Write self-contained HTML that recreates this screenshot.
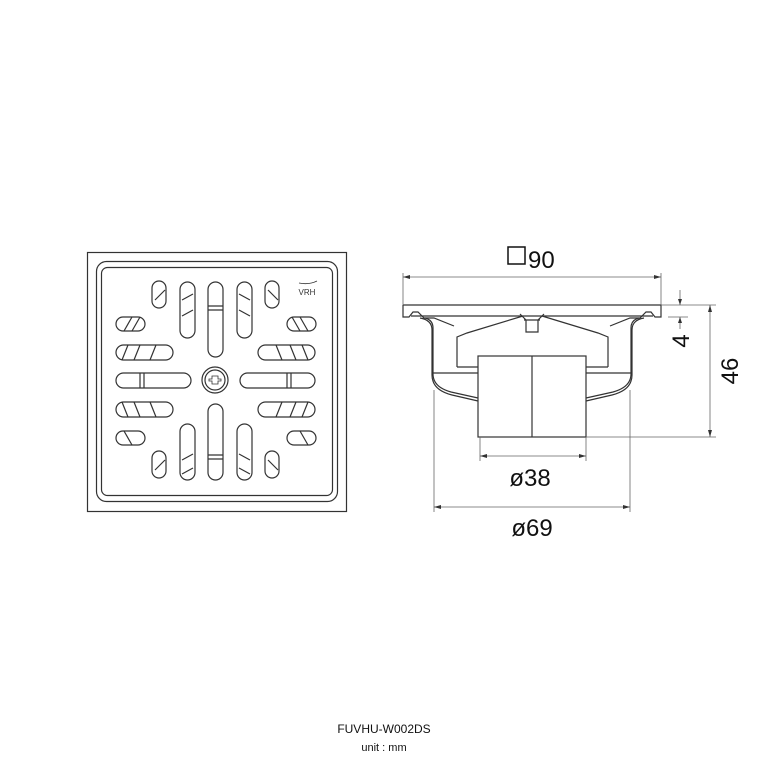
<!DOCTYPE html>
<html><head><style>html,body{margin:0;padding:0;background:#fff}svg{display:block}</style></head><body>
<svg width="768" height="768" viewBox="0 0 768 768" xmlns="http://www.w3.org/2000/svg" font-family="Liberation Sans, DejaVu Sans, sans-serif">
<g fill="none" stroke="#333" stroke-width="1.2">
<!-- plan view -->
<rect x="87.5" y="252.5" width="259" height="259"/>
<rect x="96.5" y="261.5" width="241" height="240" rx="10"/>
<rect x="101.5" y="267.5" width="231" height="228" rx="6"/>
<!-- vertical slots -->
<rect x="208" y="282" width="15" height="75" rx="7.5"/>
<rect x="208" y="404" width="15" height="76" rx="7.5"/>
<rect x="180" y="282" width="15" height="56" rx="7.5"/>
<rect x="180" y="424" width="15" height="56" rx="7.5"/>
<rect x="237" y="282" width="15" height="56" rx="7.5"/>
<rect x="237" y="424" width="15" height="56" rx="7.5"/>
<rect x="152" y="281" width="14" height="27" rx="7"/>
<rect x="152" y="451" width="14" height="27" rx="7"/>
<rect x="265" y="281" width="14" height="27" rx="7"/>
<rect x="265" y="451" width="14" height="27" rx="7"/>
<!-- horizontal slots -->
<rect x="116" y="373" width="75" height="15" rx="7.5"/>
<rect x="240" y="373" width="75" height="15" rx="7.5"/>
<rect x="116" y="345" width="57" height="15" rx="7.5"/>
<rect x="258" y="345" width="57" height="15" rx="7.5"/>
<rect x="116" y="402" width="57" height="15" rx="7.5"/>
<rect x="258" y="402" width="57" height="15" rx="7.5"/>
<rect x="116" y="317" width="29" height="14" rx="7"/>
<rect x="287" y="317" width="29" height="14" rx="7"/>
<rect x="116" y="431" width="29" height="14" rx="7"/>
<rect x="287" y="431" width="29" height="14" rx="7"/>
<!-- shading strokes -->
<path d="M208 306h15M208 310h15M208 455h15M208 459h15M140 373v15M144 373v15M287 373v15M291 373v15M182 300l11 -6M182 316l11-6M239 294l11 6M239 310l11 6M182 460l11-6M182 474l11-6M239 454l11 6M239 468l11 6M155 300l10-10M268 290l10 10M155 470l10-10M268 460l10 10M122 360l6-15M134 360l6-15M150 360l6-15M276 345l6 15M290 345l6 15M302 345l6 15M122 402l6 15M134 402l6 15M150 402l6 15M276 417l6-15M290 417l6-15M302 417l6-15M124 331l8-14M132 331l8-14M292 317l8 14M300 317l8 14M124 431l8 14M300 431l8 14"/>
<circle cx="215" cy="380" r="13"/><circle cx="215" cy="380" r="10"/>
<path d="M212 376h6v3h3v2h-3v3h-6v-3h-3v-2h3z" stroke-width="0.8"/>
<path d="M299 283q10 2 18-2" stroke-width="0.8"/>
</g>
<text x="307" y="295" font-size="8" text-anchor="middle" fill="#333">VRH</text>
<!-- side view -->
<g fill="none" stroke="#333" stroke-width="1.2">
<path d="M403 305h258v12h-6l-4-5h-5l-6 6h-10l-20 8M403 305v12h6l4-5h5l6 6h10l20 8"/>
<path d="M411 316h242"/>
<path d="M420 318q12 2 12 12v45q0 15 20 20l26 6M644 318q-12 2-12 12v45q0 15-20 20l-26 6"/>
<path d="M425 318q8 2 8 10v46q0 13 18 18l27 6M639 318q-8 2-8 10v46q0 13-18 18l-27 6"/>
<path d="M457 367v-30l10-4l56-17M608 367v-30l-10-4l-56-17"/>
<path d="M457 367h21M586 367h22M433 373h45M586 373h45"/>
<path d="M520 314l6 6v12h12v-12l6-6M524 320h16"/>
<rect x="478" y="356" width="108" height="81"/>
<path d="M532 356v81"/>
</g>
<g stroke="#666" stroke-width="0.8" fill="none">
<path d="M403 305v-32M661 305v-32M403 277h258"/>
<path d="M661 305h55M586 437h130M710 305v132M668 317h20M680 290v15M680 317v12"/>
<path d="M434 390v122M630 390v122M434 507h196M480 437v24M586 437v24M480 456h106"/>
</g>
<g fill="#333">
<path d="M403 277l7-2v4zM661 277l-7-2v4zM710 305l-2 7h4zM710 437l-2-7h4zM680 305l-2-6h4zM680 317l-2 6h4zM434 507l7-2v4zM630 507l-7-2v4zM480 456l7-2v4zM586 456l-7-2v4z"/>
</g>
<g fill="#111" font-size="24">
<rect x="508" y="247" width="17" height="17" fill="none" stroke="#111" stroke-width="1.5"/>
<text x="528" y="268">90</text>
<text x="530" y="486" text-anchor="middle">ø38</text>
<text x="532" y="536" text-anchor="middle">ø69</text>
<text transform="translate(689,341) rotate(-90)" text-anchor="middle">4</text>
<text transform="translate(738,371) rotate(-90)" text-anchor="middle">46</text>
</g>
<text x="384" y="733" font-size="12" text-anchor="middle" fill="#111">FUVHU-W002DS</text>
<text x="384" y="751" font-size="11" text-anchor="middle" fill="#111">unit : mm</text>
</svg>
</body></html>
